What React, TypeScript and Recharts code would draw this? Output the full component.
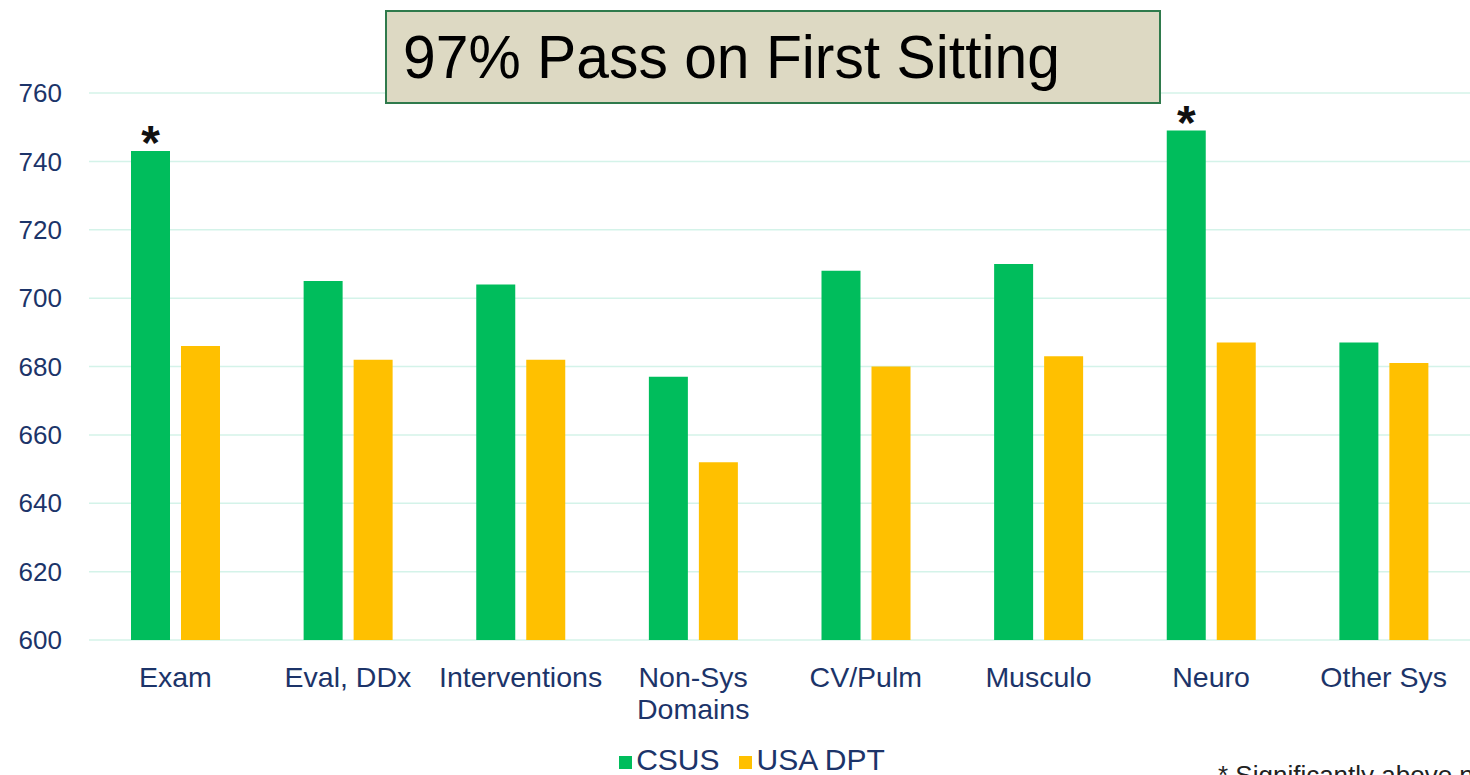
import { Bar, BarChart, CartesianGrid, LabelList, Legend, XAxis, YAxis } from "recharts";

const categories = ["Exam", "Eval, DDx", "Interventions", "Non-Sys\nDomains", "CV/Pulm", "Musculo", "Neuro", "Other Sys"];
const csus = [743, 705, 704, 677, 708, 710, 749, 687];
const usaDpt = [686, 682, 682, 652, 680, 683, 687, 681];
const significant = [true, false, false, false, false, false, true, false];
const yTicks = [600, 620, 640, 660, 680, 700, 720, 740, 760];

const data = categories.map((name, i) => ({ name, csus: csus[i], usa: usaDpt[i] }));

const FONT = '"Liberation Sans", Arial, sans-serif';
const NAVY = "#1c3469";
const GREEN = "#00bd5c";
const GOLD = "#ffc000";

function CategoryTick({ x, y, payload }: any) {
  const lines = String(payload.value).split("\n");
  return (
    <text x={x} y={y} textAnchor="middle" fill={NAVY} fontSize={28.5} fontFamily={FONT}>
      {lines.map((l, i) => (
        <tspan key={i} x={x} dy={i === 0 ? 45 : 32}>{l}</tspan>
      ))}
    </text>
  );
}

function Star(props: any) {
  const { x, y, width, index } = props;
  if (!significant[index]) return null;
  return (
    <text x={x + width / 2} y={y + 8} textAnchor="middle" fontSize={48} fontWeight="bold"
          fontFamily={FONT} fill="#111">*</text>
  );
}

export default function App() {
  return (
    <div style={{ position: "absolute", left: 0, top: 0, width: 1470, height: 775,
                  overflow: "hidden", background: "#fff", fontFamily: FONT }}>
      <BarChart width={1470} height={775} data={data} barSize={39} barGap={11}
                margin={{ top: 93, right: 0, bottom: 35, left: 0 }}>
        <CartesianGrid vertical={false} stroke="#d4f3e9" strokeWidth={1.5} />
        <XAxis dataKey="name" height={100} axisLine={false} tickLine={false} tickSize={0}
               interval={0} tick={<CategoryTick />} />
        <YAxis domain={[600, 760]} ticks={yTicks} width={89} axisLine={false} tickLine={false}
               tickSize={0} tickMargin={27} interval={0}
               tick={{ fontSize: 26, fill: NAVY, fontFamily: FONT }} />
        <Legend verticalAlign="bottom" iconType="square" iconSize={13}
                wrapperStyle={{ top: 743, left: 27, width: 1470, height: 0, fontSize: 30, fontFamily: FONT }}
                formatter={(v: string) => <span style={{ color: NAVY, marginRight: 10 }}>{v}</span>} />
        <Bar dataKey="csus" name="CSUS" fill={GREEN} isAnimationActive={false}>
          <LabelList dataKey="csus" content={<Star />} />
        </Bar>
        <Bar dataKey="usa" name="USA DPT" fill={GOLD} isAnimationActive={false} />
      </BarChart>
      <svg width={1470} height={775} style={{ position: "absolute", left: 0, top: 0, pointerEvents: "none" }}>
        <rect x={386} y={11} width={774} height={92} fill="#ddd9c3" stroke="#2f7a4c" strokeWidth={2} />
        <text x={403} y={78} fontSize={62} fontFamily={FONT} fill="#000" textLength={657}
              lengthAdjust="spacingAndGlyphs">97% Pass on First Sitting</text>
        <text x={1218} y={784} fontSize={26} fontFamily={FONT} fill="#222">* Significantly above national average</text>
      </svg>
    </div>
  );
}
